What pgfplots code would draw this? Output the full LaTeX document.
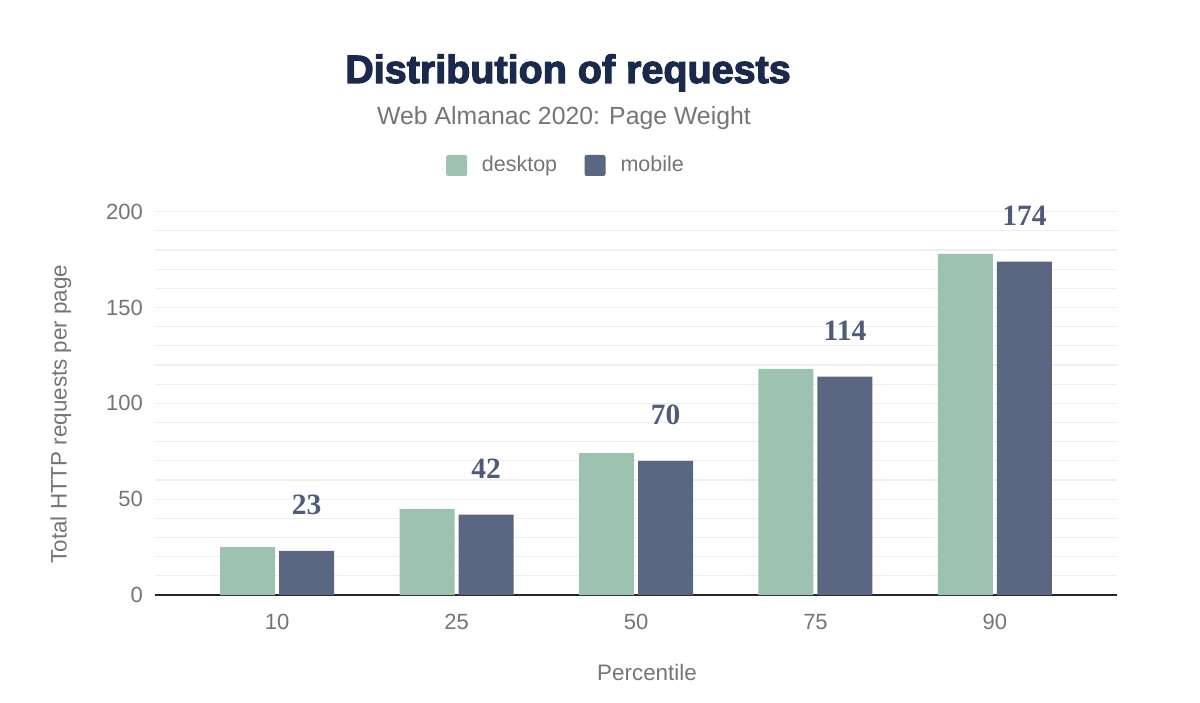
\documentclass[border=0pt]{standalone}
\usepackage{pgfplots}
\pgfplotsset{compat=1.18}
\usepackage{fontspec}
\setmainfont{Liberation Sans}
\newfontfamily\titlefont[FakeBold=3]{Liberation Sans Bold}
\newfontfamily\labelfont{Liberation Serif}

\definecolor{desk}{HTML}{9DC3B0}
\definecolor{mob}{HTML}{5A6682}
\definecolor{lab}{HTML}{4F5B79}
\definecolor{tgray}{HTML}{757575}
\definecolor{ttl}{HTML}{1B2A4A}
\definecolor{gridc}{HTML}{EFEFEF}

\begin{document}
\begin{tikzpicture}[x=1pt,y=1pt]
\useasboundingbox (-155,-107) rectangle (1045,595);
\begin{axis}[
  at={(0,0)}, anchor=south west,
  scale only axis,
  width=962pt, height=383.3pt,
  xmin=-0.68, xmax=4.68,
  ymin=0, ymax=200,
  xtick={0,...,4},
  xticklabels={10,25,50,75,90},
  ytick={0,50,...,200},
  minor y tick num=4,
  ymajorgrids, yminorgrids,
  major grid style={line width=1.2pt, draw=gridc},
  minor grid style={line width=1.2pt, draw=gridc},
  axis x line*=bottom,
  axis y line*=left,
  x axis line style={-, line width=1.5pt, draw=black!85},
  y axis line style={draw=none},
  tick style={draw=none},
  /pgf/number format/assume math mode=true,
  tick label style={font=\fontsize{22}{24}\selectfont, text=tgray},
  yticklabel style={inner sep=0pt, anchor=east, xshift=-12pt},
  xticklabel style={inner sep=0pt, anchor=north, yshift=-15pt},
  ybar,
  bar width=55pt,
]
% desktop
\addplot[fill=desk, draw=none, bar shift=-29.5pt]
coordinates {(0,25) (1,45) (2,74) (3,118) (4,178)};
% mobile, labelled
\addplot[fill=mob, draw=none, bar shift=29.5pt,
  nodes near coords,
  nodes near coords style={font=\labelfont\bfseries\fontsize{29.5}{31}\selectfont,
    text=lab, anchor=south, inner sep=0pt, yshift=36pt}]
coordinates {(0,23) (1,42) (2,70) (3,114) (4,174)};
\end{axis}

% title block
\node[anchor=base, inner sep=0pt, text=ttl, font=\titlefont\fontsize{39.5}{41}\selectfont]
  at (413,512) {Distribution of requests};
\node[anchor=base, inner sep=0pt, text=tgray, font=\fontsize{24.8}{26}\selectfont]
  at (409,470) {Web Almanac 2020: Page Weight};

% legend
\fill[desk, rounded corners=2pt] (291.2,419) rectangle (312.2,440);
\node[anchor=base west, inner sep=0pt, text=tgray, font=\fontsize{21.5}{23}\selectfont]
  at (326.7,423.3) {desktop};
\fill[mob, rounded corners=2pt] (429.5,419) rectangle (450.5,440);
\node[anchor=base west, inner sep=0pt, text=tgray, font=\fontsize{21.5}{23}\selectfont]
  at (465.3,423.3) {mobile};

% axis titles
\node[rotate=90, anchor=base, inner sep=0pt, text=tgray, font=\fontsize{22.4}{24}\selectfont]
  at (-88.3,181) {Total HTTP requests per page};
\node[anchor=base, inner sep=0pt, text=tgray, font=\fontsize{22.4}{24}\selectfont]
  at (492,-85) {Percentile};
\end{tikzpicture}
\end{document}
